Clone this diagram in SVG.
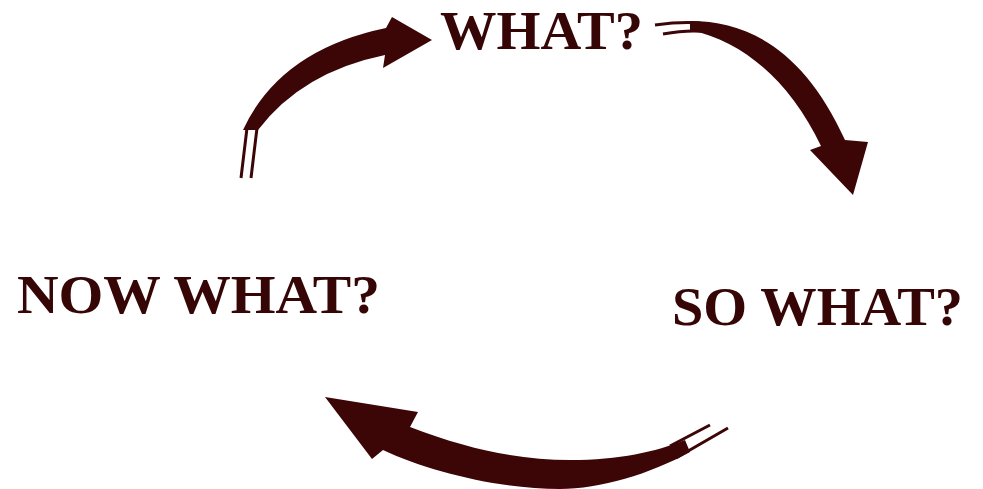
<svg xmlns="http://www.w3.org/2000/svg" width="983" height="489" viewBox="0 0 983 489">
<style>
.lbl{font-family:"Liberation Serif","Times New Roman",serif;font-weight:bold;font-size:55px;fill:#360606}
.arw{fill:#3d0606;stroke:none}
.tail{fill:none;stroke:#3d0606;stroke-width:3}
</style>
<rect width="983" height="489" fill="#ffffff"/>
<g id="node-what"><text class="lbl" x="440" y="49" font-size="51" textLength="203" lengthAdjust="spacingAndGlyphs">WHAT?</text></g>
<g id="node-so-what"><text class="lbl" x="672" y="325" textLength="291" lengthAdjust="spacingAndGlyphs">SO WHAT?</text></g>
<g id="node-now-what"><text class="lbl" x="17" y="313" textLength="363" lengthAdjust="spacingAndGlyphs">NOW WHAT?</text></g>
<g id="connectors">
  <g id="arrow-now-to-what">
    <path class="arw" d="M243,130 Q280,50 386,28 L392,17 L432,40 L383,68 L385,55 Q302,72 258,130 Z"/>
    <path class="tail" d="M241,178 L247,128 M251,178 L257,128"/>
  </g>
  <g id="arrow-what-to-so">
    <path class="arw" d="M690,21 C750,21 805,52 845,140 L868,142 L853,195 L810,150 L821,146 C790,82 745,42 690,30 Z"/>
    <path class="tail" d="M655,25 C670,23 685,22 700,23 M663,34 C680,31 695,30 708,32"/>
  </g>
  <g id="arrow-so-to-now">
    <path class="arw" d="M410,427 C470,450 520,460 570,460 C620,460 655,452 685,440 L690,452 C650,474 600,489 560,489 C500,489 430,472 383,450 L372,459 L325,397 L418,412 Z"/>
    <path class="tail" d="M670,446 L710,425 M676,458 L728,428"/>
  </g>
</g>
</svg>
